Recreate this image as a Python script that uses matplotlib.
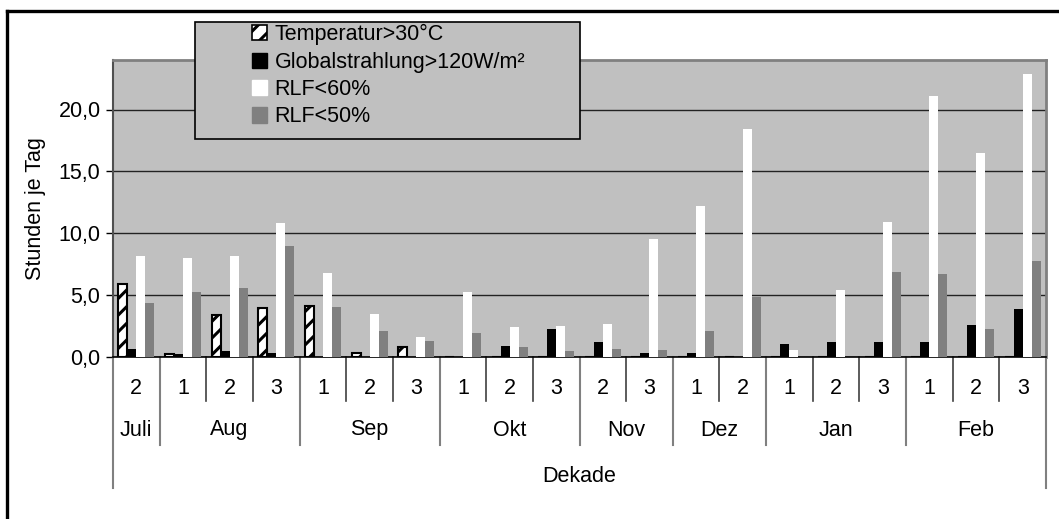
import matplotlib
matplotlib.use("Agg")
import matplotlib.pyplot as plt
from matplotlib.patches import Patch, Rectangle
from matplotlib.lines import Line2D
from matplotlib.ticker import FuncFormatter, MultipleLocator
import numpy as np

plt.rcParams['font.family'] = ['Liberation Sans', 'DejaVu Sans']
plt.rcParams['hatch.linewidth'] = 2.2

# Decades (1st, 2nd, 3rd ten days of the month) and their months
decades = ['2', '1', '2', '3', '1', '2', '3', '1', '2', '3',
           '2', '3', '1', '2', '1', '2', '3', '1', '2', '3']
month_names = ['Juli', 'Aug', 'Sep', 'Okt', 'Nov', 'Dez', 'Jan', 'Feb']
month_counts = [1, 3, 3, 3, 2, 2, 3, 3]

# Hours per day
temp_over_30 = [5.9, 0.25, 3.4, 4.0, 4.1, 0.35, 0.8, 0.0, 0.0, 0.0,
                0.0, 0.0, 0.0, 0.0, 0.0, 0.0, 0.0, 0.0, 0.0, 0.0]
global_over_120 = [0.65, 0.25, 0.45, 0.35, 0.0, 0.0, 0.0, 0.0, 0.85, 2.25,
                   1.25, 0.35, 0.3, 0.0, 1.05, 1.25, 1.25, 1.25, 2.55, 3.85]
rlf_under_60 = [8.2, 8.0, 8.2, 10.8, 6.8, 3.45, 1.6, 5.25, 2.45, 2.5,
                2.65, 9.55, 12.2, 18.4, 0.55, 5.45, 10.9, 21.1, 16.5, 22.9]
rlf_under_50 = [4.4, 5.25, 5.55, 8.95, 4.05, 2.1, 1.3, 1.95, 0.8, 0.5,
                0.65, 0.55, 2.1, 4.85, 0.0, 0.0, 6.85, 6.7, 2.25, 7.75]

series_labels = ['Temperatur>30°C', 'Globalstrahlung>120W/m²', 'RLF<60%', 'RLF<50%']

W, H = 1059, 519
FS = 15.5
fig = plt.figure(figsize=(W / 100, H / 100), dpi=100)
ax = fig.add_axes([113 / W, 1 - 357 / H, (1046 - 113) / W, 297 / H])
ax.set_facecolor('#c0c0c0')

x = np.arange(len(decades))
bw = 0.193
offsets = np.array([-1.5, -0.5, 0.5, 1.5]) * bw

ax.bar(x + offsets[0], temp_over_30, bw, facecolor='white', edgecolor='black',
       hatch='//', linewidth=1.5, zorder=3)
ax.bar(x + offsets[1], global_over_120, bw, color='black', linewidth=0, zorder=3)
ax.bar(x + offsets[2], rlf_under_60, bw, color='white', linewidth=0, zorder=3)
ax.bar(x + offsets[3], rlf_under_50, bw, color='#808080', linewidth=0, zorder=3)

ax.set_xlim(-0.5, len(decades) - 0.5)
ax.set_ylim(0, 24)
ax.yaxis.set_major_locator(MultipleLocator(5))
ax.yaxis.set_major_formatter(FuncFormatter(lambda v, p: f'{v:.1f}'.replace('.', ',')))
ax.grid(axis='y', color='#222222', linewidth=1.0, zorder=1)
ax.set_axisbelow(True)
ax.tick_params(axis='y', length=5, width=1, color='black', labelsize=FS, pad=4)
ax.tick_params(axis='x', bottom=False, labelbottom=False)
ax.set_xticks([])

for side in ['top', 'right']:
    ax.spines[side].set_color('#808080')
    ax.spines[side].set_linewidth(2)
ax.spines['left'].set_color('#505050')
ax.spines['left'].set_linewidth(1.5)
ax.spines['bottom'].set_color('black')
ax.spines['bottom'].set_linewidth(1.2)

ax.set_ylabel('Stunden je Tag', fontsize=FS, labelpad=9)

# Multi-level category axis below the plot
tr = ax.get_xaxis_transform()
axh = 297.0
y_dec_line = -(401 - 357) / axh
y_mon_line = -(445 - 357) / axh
y_out_line = -(488 - 357) / axh
y_dec_text = -(389 - 357) / axh
y_mon_text = -(430 - 357) / axh
y_lab_text = -(477 - 357) / axh

for i, d in enumerate(decades):
    ax.text(i, y_dec_text, d, transform=tr, ha='center', va='center',
            fontsize=FS, clip_on=False)

bounds = np.concatenate([[0], np.cumsum(month_counts)]) - 0.5
month_edges = set(bounds.tolist())
for b in np.arange(-0.5, len(decades), 1.0):
    if b in (bounds[0], bounds[-1]):
        ax.plot([b, b], [0, y_out_line], transform=tr, color='#808080',
                lw=1.5, clip_on=False)
    elif b in month_edges:
        ax.plot([b, b], [0, y_mon_line], transform=tr, color='#808080',
                lw=1.5, clip_on=False)
    else:
        ax.plot([b, b], [0, y_dec_line], transform=tr, color='#404040',
                lw=1.2, clip_on=False)

for name, lo, hi in zip(month_names, bounds[:-1], bounds[1:]):
    ax.text((lo + hi) / 2, y_mon_text, name, transform=tr, ha='center',
            va='center', fontsize=FS, clip_on=False)

ax.text((bounds[0] + bounds[-1]) / 2, y_lab_text, 'Dekade', transform=tr,
        ha='center', va='center', fontsize=FS, clip_on=False)

# Chart frame (left and top edges)
fig.add_artist(Line2D([6.5 / W, 6.5 / W], [0, 1 - 11 / H], transform=fig.transFigure,
                      color='black', lw=2.4))
fig.add_artist(Line2D([6.5 / W, 1], [1 - 11 / H, 1 - 11 / H], transform=fig.transFigure,
                      color='black', lw=2.4))

# Legend box
fig.add_artist(Rectangle((195 / W, 1 - 139 / H), (580 - 195) / W, (139 - 22) / H,
                         transform=fig.transFigure, facecolor='#c0c0c0',
                         edgecolor='black', lw=1.2, zorder=4))
handles = [
    Patch(facecolor='white', edgecolor='black', hatch='//', linewidth=1.2),
    Patch(facecolor='black', edgecolor='black'),
    Patch(facecolor='white', edgecolor='white'),
    Patch(facecolor='#808080', edgecolor='#808080'),
]
fig.legend(handles, series_labels, loc='upper left',
           bbox_to_anchor=(252 / W, 1 - 24 / H), frameon=False,
           fontsize=FS, handlelength=0.7, handleheight=0.7,
           handletextpad=0.35, labelspacing=0.3, borderpad=0,
           borderaxespad=0).set_zorder(5)

fig.savefig('out.png', dpi=100)
